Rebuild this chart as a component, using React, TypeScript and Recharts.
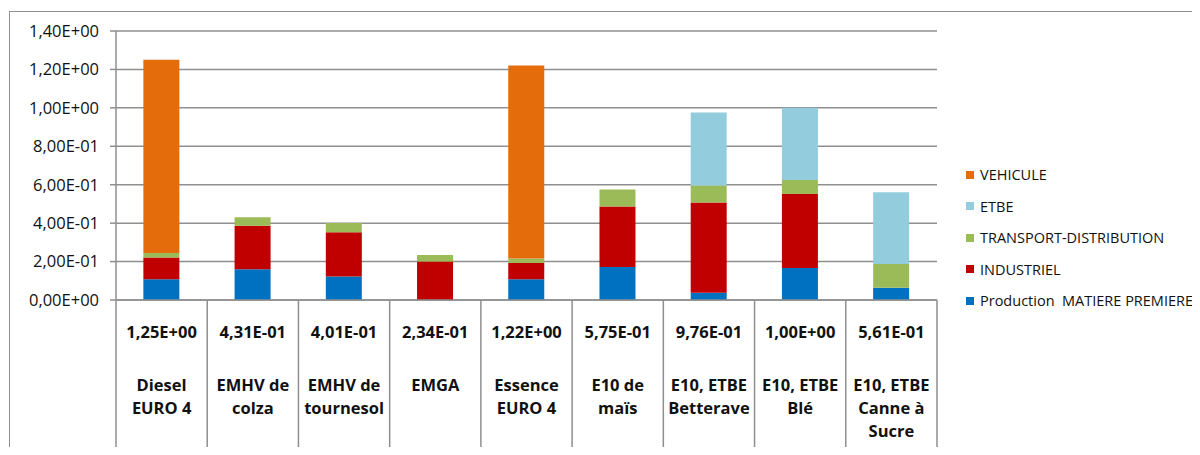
import { BarChart, Bar, XAxis, YAxis, CartesianGrid } from 'recharts';

// catégories (retours à la ligne comme dans le tableau)
const categories = [
  'Diesel\nEURO 4',
  'EMHV de\ncolza',
  'EMHV de\ntournesol',
  'EMGA',
  'Essence\nEURO 4',
  'E10 de\nmaïs',
  'E10, ETBE\nBetterave',
  'E10, ETBE\nBlé',
  'E10, ETBE\nCanne à\nSucre',
];

const totals = [1.25, 0.431, 0.401, 0.234, 1.22, 0.575, 0.976, 1.0, 0.561];

const production = [0.108, 0.16, 0.122, 0, 0.108, 0.172, 0.038, 0.166, 0.064];
const industriel = [0.113, 0.227, 0.23, 0.2, 0.085, 0.315, 0.47, 0.386, -0.012];
const transport = [0.023, 0.044, 0.049, 0.034, 0.023, 0.088, 0.088, 0.073, 0.124];
const etbe = [0, 0, 0, 0, 0, 0, 0.38, 0.375, 0.373];
const vehicule = [1.006, 0, 0, 0, 1.004, 0, 0, 0, 0];

const yTicks = [0, 0.2, 0.4, 0.6, 0.8, 1.0, 1.2, 1.4];

const series = [
  { key: 'production', name: 'Production  MATIERE PREMIERE', color: '#0070C0' },
  { key: 'industriel', name: 'INDUSTRIEL', color: '#C00000' },
  { key: 'transport', name: 'TRANSPORT-DISTRIBUTION', color: '#9BBB59' },
  { key: 'etbe', name: 'ETBE', color: '#93CDDD' },
  { key: 'vehicule', name: 'VEHICULE', color: '#E46C0A' },
];

const data = categories.map((name, i) => ({
  name,
  production: production[i],
  industriel: industriel[i],
  transport: transport[i],
  etbe: etbe[i],
  vehicule: vehicule[i],
}));

const FONT = '"Open Sans", "Noto Sans", sans-serif';
const LINE = '#8f8f8f';
const PLOT_LEFT = 116;
const PLOT_RIGHT = 937;
const PLOT_BOTTOM = 300;
const BOTTOM = 455;
const band = (PLOT_RIGHT - PLOT_LEFT) / categories.length;

// format "1,40E+00"
function sci(v: number) {
  if (v === 0) return '0,00E+00';
  const [m, e] = v.toExponential(2).split('e');
  const exp = parseInt(e, 10);
  const sign = exp < 0 ? '-' : '+';
  return `${m.replace('.', ',')}E${sign}${String(Math.abs(exp)).padStart(2, '0')}`;
}

function TableTick(props: any) {
  const { x, payload, index } = props;
  const lines: string[] = String(payload.value).split('\n');
  const left = x - band / 2;
  return (
    <g>
      <line x1={left} y1={PLOT_BOTTOM} x2={left} y2={BOTTOM} stroke={LINE} strokeWidth={1.5} />
      {index === categories.length - 1 && (
        <line x1={left + band} y1={PLOT_BOTTOM} x2={left + band} y2={BOTTOM} stroke={LINE} strokeWidth={1.5} />
      )}
      <text x={x} y={338} textAnchor="middle" fontFamily={FONT} fontSize={16.5} fontWeight="bold" fill="#111">
        {sci(totals[index])}
      </text>
      {lines.map((l, j) => (
        <text key={j} x={x} y={391 + j * 23} textAnchor="middle" fontFamily={FONT} fontSize={16.5} fontWeight="bold" fill="#111">
          {l}
        </text>
      ))}
    </g>
  );
}

export default function App() {
  return (
    <div style={{ position: 'relative', width: 1200, height: 455, margin: -8, overflow: 'hidden', background: '#fff' }}>
      <div
        style={{
          position: 'absolute',
          left: 9,
          top: 11,
          width: 1220,
          height: 480,
          border: `1.5px solid ${LINE}`,
        }}
      />
      <BarChart
        width={1200}
        height={455}
        data={data}
        stackOffset="sign"
        barCategoryGap="30%"
        margin={{ top: 31, right: 263, left: 10, bottom: 0 }}
        style={{ position: 'absolute', left: 0, top: 0 }}
      >
        <CartesianGrid vertical={false} stroke={LINE} strokeWidth={1.5} />
        <XAxis
          dataKey="name"
          height={155}
          axisLine={{ stroke: LINE, strokeWidth: 1.5 }}
          tickLine={false}
          interval={0}
          tick={<TableTick />}
        />
        <YAxis
          width={106}
          domain={[0, 1.4]}
          ticks={yTicks}
          interval={0}
          allowDataOverflow
          tickFormatter={sci}
          tickSize={6}
          tickMargin={11}
          axisLine={{ stroke: LINE, strokeWidth: 1.5 }}
          tickLine={{ stroke: LINE, strokeWidth: 1.5 }}
          tick={{ fontFamily: FONT, fontSize: 16.5, fill: '#111' }}
        />
        {series.map((s) => (
          <Bar key={s.key} dataKey={s.key} name={s.name} stackId="a" fill={s.color} isAnimationActive={false} />
        ))}
      </BarChart>
      {/* légende, ordre inversé comme dans Excel */}
      <div style={{ position: 'absolute', left: 966, top: 159, fontFamily: FONT, fontSize: 14.5, color: '#111' }}>
        {[...series].reverse().map((s) => (
          <div key={s.key} style={{ display: 'flex', alignItems: 'center', height: 31.5 }}>
            <span style={{ width: 8, height: 8, background: s.color, marginRight: 6, display: 'inline-block' }} />
            <span style={{ whiteSpace: 'pre' }}>{s.name}</span>
          </div>
        ))}
      </div>
    </div>
  );
}
